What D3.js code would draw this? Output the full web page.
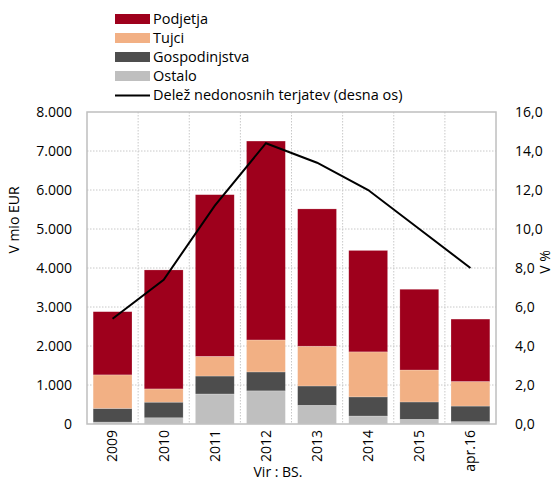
<!DOCTYPE html>
<html>
<head>
<meta charset="utf-8">
<script src="https://cdn.jsdelivr.net/npm/d3@7"></script>
<style>
  body { margin: 0; background: #fff; }
  svg text { font-family: "Open Sans", sans-serif; fill: #000; }
</style>
</head>
<body>
<svg id="chart" width="553" height="498"></svg>
<script>
const categories = ["2009", "2010", "2011", "2012", "2013", "2014", "2015", "apr.16"];
const ostalo = [50, 160, 770, 850, 480, 205, 120, 60];
const gospodinjstva = [350, 400, 460, 485, 495, 490, 445, 400];
const tujci = [860, 340, 505, 820, 1020, 1155, 820, 630];
const podjetja = [1620, 3050, 4145, 5100, 3520, 2600, 2070, 1600];
const delez = [5.4, 7.4, 11.2, 14.4, 13.4, 12.0, 10.0, 8.0];
const leftTicks = [0, 1000, 2000, 3000, 4000, 5000, 6000, 7000, 8000];
const rightTicks = [0, 2, 4, 6, 8, 10, 12, 14, 16];

const seriesNames = ["Ostalo", "Gospodinjstva", "Tujci", "Podjetja"];
const colors = {
  Podjetja: "#9e001c",
  Tujci: "#f2b084",
  Gospodinjstva: "#4d4d4d",
  Ostalo: "#bfbfbf"
};

const width = 553, height = 498;
const margin = { top: 112, right: 57, bottom: 74, left: 87 };
const svg = d3.select("#chart");

const locale = d3.formatLocale({ decimal: ",", thousands: ".", grouping: [3], currency: ["", ""] });
const fmtLeft = locale.format(",.0f");
const fmtRight = locale.format(".1f");

const rows = categories.map((c, i) => ({
  cat: c,
  Ostalo: ostalo[i],
  Gospodinjstva: gospodinjstva[i],
  Tujci: tujci[i],
  Podjetja: podjetja[i]
}));
const stacked = d3.stack().keys(seriesNames)(rows);

const x = d3.scaleBand()
  .domain(categories)
  .range([margin.left, width - margin.right])
  .paddingInner(0.24)
  .paddingOuter(0.12);
const y = d3.scaleLinear().domain([0, 8000]).range([height - margin.bottom, margin.top]);
const y2 = d3.scaleLinear().domain([0, 16]).range([height - margin.bottom, margin.top]);

// grid
const grid = svg.append("g").attr("stroke", "#c8c8c8").attr("stroke-dasharray", "1.5,1.5").attr("stroke-width", 1);
grid.selectAll(".h").data(leftTicks.slice(1, -1)).enter().append("line")
  .attr("x1", margin.left).attr("x2", width - margin.right)
  .attr("y1", d => y(d)).attr("y2", d => y(d));
grid.selectAll(".v").data(categories.slice(1)).enter().append("line")
  .attr("x1", d => x(d) - x.step() * x.paddingInner() / 2)
  .attr("x2", d => x(d) - x.step() * x.paddingInner() / 2)
  .attr("y1", margin.top).attr("y2", height - margin.bottom);

// bars
svg.append("g").selectAll("g").data(stacked).enter().append("g")
  .attr("fill", d => colors[d.key])
  .selectAll("rect").data(d => d).enter().append("rect")
  .attr("x", d => x(d.data.cat))
  .attr("width", x.bandwidth())
  .attr("y", d => y(d[1]))
  .attr("height", d => y(d[0]) - y(d[1]))
  .attr("stroke", "#ffffff").attr("stroke-opacity", 0.35).attr("stroke-width", 0.6);

// frame
svg.append("rect")
  .attr("x", margin.left).attr("y", margin.top)
  .attr("width", width - margin.left - margin.right)
  .attr("height", height - margin.top - margin.bottom)
  .attr("fill", "none").attr("stroke", "#bfbfbf").attr("stroke-width", 1.5);

// line
const line = d3.line()
  .x((d, i) => x(categories[i]) + x.bandwidth() / 2)
  .y(d => y2(d));
svg.append("path").datum(delez)
  .attr("fill", "none").attr("stroke", "#000").attr("stroke-width", 2)
  .attr("d", line);

// axes
const axL = svg.append("g").attr("transform", `translate(${margin.left},0)`)
  .call(d3.axisLeft(y).tickValues(leftTicks).tickFormat(fmtLeft).tickSize(0).tickPadding(15));
const axR = svg.append("g").attr("transform", `translate(${width - margin.right},0)`)
  .call(d3.axisRight(y2).tickValues(rightTicks).tickFormat(fmtRight).tickSize(0).tickPadding(19));
const axB = svg.append("g").attr("transform", `translate(0,${height - margin.bottom})`)
  .call(d3.axisBottom(x).tickSize(0).tickPadding(0));
[axL, axR, axB].forEach(a => {
  a.select(".domain").remove();
  a.selectAll("text").style("font-size", "14px").style("font-family", "'Open Sans', sans-serif");
});
axB.selectAll("text")
  .attr("transform", "rotate(-90)")
  .attr("text-anchor", "end")
  .attr("dy", "0.35em")
  .attr("x", -6)
  .attr("y", 0);

// axis titles
svg.append("text")
  .attr("transform", "translate(14,220) rotate(-90)")
  .attr("text-anchor", "middle").attr("dy", "0.35em")
  .style("font-size", "14px").text("V mio EUR");
svg.append("text")
  .attr("transform", "translate(545,262) rotate(-90)")
  .attr("text-anchor", "middle").attr("dy", "0.35em")
  .style("font-size", "14px").text("V %");
svg.append("text")
  .attr("x", 278).attr("y", 477)
  .attr("text-anchor", "middle")
  .style("font-size", "14px").text("Vir : BS.");

// legend
const legendItems = [
  { name: "Podjetja", type: "box" },
  { name: "Tujci", type: "box" },
  { name: "Gospodinjstva", type: "box" },
  { name: "Ostalo", type: "box" },
  { name: "Delež nedonosnih terjatev (desna os)", type: "line" }
];
const lg = svg.append("g").selectAll("g").data(legendItems).enter().append("g")
  .attr("transform", (d, i) => `translate(115,${19 + i * 19})`);
lg.filter(d => d.type === "box").append("rect")
  .attr("x", 0).attr("y", -5).attr("width", 35).attr("height", 10)
  .attr("fill", d => colors[d.name]);
lg.filter(d => d.type === "line").append("line")
  .attr("x1", 0).attr("x2", 35).attr("y1", 0.5).attr("y2", 0.5)
  .attr("stroke", "#000").attr("stroke-width", 2);
lg.append("text")
  .attr("x", 38).attr("dy", "0.35em")
  .style("font-size", "14.5px").text(d => d.name);
</script>
</body>
</html>
